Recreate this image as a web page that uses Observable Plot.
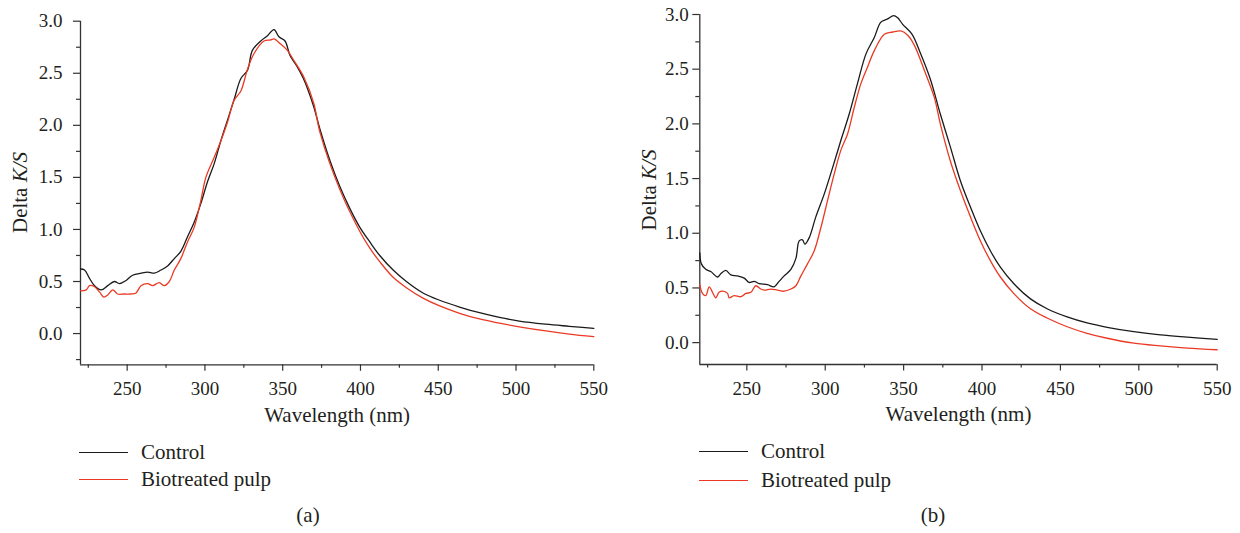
<!DOCTYPE html>
<html>
<head>
<meta charset="utf-8">
<script src="https://cdn.jsdelivr.net/npm/d3@7"></script>
<script src="https://cdn.jsdelivr.net/npm/@observablehq/plot@0.6"></script>
<style>
  html, body { margin: 0; padding: 0; background: #fff; }
  #fig { position: relative; width: 1240px; height: 533px; overflow: hidden; font-family: "Liberation Serif", serif; color: #231f20; }
  .panel { position: absolute; top: 0; width: 620px; height: 430px; }
  .leg { position: absolute; font-size: 21px; line-height: 21px; white-space: nowrap; }
  .legline { position: absolute; width: 49px; height: 0; border-top: 1.4px solid; }
  .cap { position: absolute; width: 616px; text-align: center; font-size: 21px; line-height: 21px; }
</style>
</head>
<body>
<div id="fig">
  <div class="panel" id="pa" style="left:0"></div>
  <div class="panel" id="pb" style="left:620px"></div>

  <div class="legline" style="left:79px;top:451.5px;border-color:#1a1a1a"></div>
  <div class="leg" style="left:141px;top:441.5px">Control</div>
  <div class="legline" style="left:79px;top:478.5px;border-color:#ea3a24"></div>
  <div class="leg" style="left:141px;top:469px">Biotreated pulp</div>
  <div class="cap" style="left:0;top:504.5px">(a)</div>

  <div class="legline" style="left:699px;top:451px;border-color:#1a1a1a"></div>
  <div class="leg" style="left:761px;top:441px">Control</div>
  <div class="legline" style="left:699px;top:480px;border-color:#ea3a24"></div>
  <div class="leg" style="left:761px;top:470px">Biotreated pulp</div>
  <div class="cap" style="left:625px;top:504.5px">(b)</div>
</div>
<script>
// ---- Data ----
const seriesNames = ["Control", "Biotreated pulp"];
const seriesColors = ["#1a1a1a", "#ea3a24"];
const xDomain = [220, 550];
const xMajorTicks = [250, 300, 350, 400, 450, 500, 550];
const xMinorTicks = [225, 275, 325, 375, 425, 475, 525];
const yMajorTicks = [0, 0.5, 1.0, 1.5, 2.0, 2.5, 3.0];
const yMinorTicksA = [-0.25, 0.25, 0.75, 1.25, 1.75, 2.25, 2.75];
const yMinorTicksB = [0.25, 0.75, 1.25, 1.75, 2.25, 2.75];
const yDomainA = [-0.3, 3.0];
const yDomainB = [-0.2, 3.0];

// Panel (a) Control
const aControlWl = [220,222.6,225.8,229,233.3,237.5,241.8,245,249.3,253.5,258.9,263.2,267.4,271.7,276,280.3,284.5,288.8,293.1,297.4,301.7,305.9,310.2,314.5,318.8,323.1,327.4,330.5,335.9,340.2,344.4,347.6,351.5,354.7,359,363.3,369.7,374,380.4,386.8,393.2,399.6,406,412.4,421,429.5,440.2,450.9,463.7,476.5,489.3,502.1,519.2,534.2,550];
const aControlVal = [0.62,0.61,0.53,0.46,0.42,0.46,0.50,0.48,0.51,0.56,0.58,0.59,0.58,0.61,0.65,0.72,0.79,0.93,1.07,1.25,1.46,1.63,1.85,2.05,2.25,2.45,2.53,2.72,2.81,2.86,2.92,2.85,2.81,2.67,2.57,2.45,2.19,1.96,1.66,1.41,1.20,1.02,0.88,0.75,0.61,0.50,0.39,0.32,0.255,0.20,0.155,0.12,0.09,0.07,0.05];
// Panel (a) Biotreated pulp
const aBioWl = [220,223.7,225.8,229,232.2,235,237.5,240.7,243.9,248.2,252.4,255.7,258.9,263.2,266.4,270.6,273.9,277.1,280.3,284.5,288.8,293.1,297.4,300.6,305.9,310.2,314.5,318.8,323.1,327.4,331.6,338,342.3,344.4,348.7,353,357.3,363.7,370,374,386.8,399.6,406,412.4,421,429.5,440.2,450.9,463.7,476.5,489.3,502.1,519.2,534.2,550];
const aBioVal = [0.41,0.42,0.46,0.45,0.40,0.35,0.37,0.42,0.38,0.38,0.38,0.39,0.46,0.48,0.46,0.49,0.46,0.50,0.61,0.72,0.88,1.02,1.28,1.50,1.69,1.85,2.03,2.24,2.33,2.54,2.69,2.81,2.82,2.83,2.78,2.72,2.62,2.46,2.21,1.93,1.38,0.98,0.82,0.69,0.54,0.44,0.34,0.265,0.195,0.14,0.10,0.065,0.025,-0.005,-0.03];

// Panel (b) Control
const bControlWl = [220,221,223.8,227,231.3,233.4,236.6,239.8,244,248.3,251.5,254.7,257.9,263.2,267.4,270.6,273.8,278.1,281.3,283.4,285.5,287,289.8,294,299.4,304.7,310,315.3,320.6,326,331.3,335.5,339.8,343.6,346.2,349.4,355.3,360.6,367,373.4,379.8,386.2,392.6,399,405.3,411.7,420.2,430.9,441.5,454.3,467,479.8,496.8,513.8,530.9,550];
const bControlVal = [0.82,0.72,0.67,0.65,0.60,0.63,0.66,0.62,0.61,0.59,0.55,0.56,0.54,0.53,0.51,0.56,0.61,0.67,0.77,0.93,0.94,0.90,0.96,1.15,1.36,1.60,1.85,2.09,2.37,2.64,2.79,2.93,2.96,2.99,2.97,2.91,2.82,2.65,2.41,2.09,1.79,1.48,1.24,1.02,0.84,0.69,0.54,0.40,0.31,0.235,0.18,0.14,0.10,0.07,0.05,0.03];
// Panel (b) Biotreated pulp
const bBioWl = [220,221.7,223.8,226,228.1,230.2,232.3,234.5,237.7,238.7,241.9,246.2,249.4,252.6,255.7,258.9,261.1,265.3,269.6,273.8,278.1,281.3,284.5,288.7,293,297.2,301.5,305.7,310,314.3,318.5,322.8,327,331.3,337.7,343,348.3,352.6,356.8,363.2,369.6,373.4,379.8,386.2,392.6,399,405.3,411.7,420.2,430.9,441.5,454.3,467,479.8,496.8,513.8,530.9,550];
const bBioVal = [0.53,0.45,0.43,0.51,0.46,0.41,0.46,0.47,0.45,0.41,0.43,0.42,0.45,0.46,0.52,0.49,0.48,0.49,0.48,0.47,0.49,0.52,0.61,0.72,0.84,1.05,1.30,1.54,1.76,1.91,2.15,2.37,2.52,2.67,2.82,2.84,2.85,2.81,2.72,2.49,2.24,2.00,1.66,1.39,1.15,0.93,0.75,0.60,0.45,0.31,0.225,0.145,0.085,0.04,-0.005,-0.03,-0.05,-0.065];

function rows(wl, val, name) { return wl.map((w, i) => ({wl: w, v: val[i], series: name})); }

function panel(el, cfg) {
  const data = [
    ...rows(cfg.ctrlWl, cfg.ctrlVal, seriesNames[0]),
    ...rows(cfg.bioWl, cfg.bioVal, seriesNames[1])
  ];
  const axisColor = "#333";
  const plot = Plot.plot({
    width: 620, height: 430,
    marginLeft: cfg.ml, marginRight: cfg.mr, marginTop: cfg.mt, marginBottom: cfg.mb,
    style: {fontFamily: "'Liberation Serif', serif", fontSize: "19px", color: "#231f20", background: "transparent"},
    x: {domain: xDomain},
    y: {domain: cfg.yDomain},
    color: {domain: seriesNames, range: seriesColors},
    marks: [
      Plot.axisX(xMajorTicks, {tickSize: 6.5, tickPadding: 10, label: null, stroke: axisColor, strokeWidth: 1.2}),
      Plot.axisX(xMinorTicks, {tickSize: 3.5, tickFormat: () => "", label: null, stroke: axisColor, strokeWidth: 1.2}),
      Plot.axisY(yMajorTicks, {tickSize: 7, tickPadding: cfg.ytp, tickFormat: d3.format(".1f"), label: null, stroke: axisColor, strokeWidth: 1.2}),
      Plot.axisY(cfg.yMinor, {tickSize: 4, tickFormat: () => "", label: null, stroke: axisColor, strokeWidth: 1.2}),
      Plot.ruleY([cfg.yDomain[0]], {stroke: axisColor, strokeWidth: 1.3}),
      Plot.ruleX([xDomain[0]], {stroke: axisColor, strokeWidth: 1.3}),
      Plot.line(data, {x: "wl", y: "v", z: "series", stroke: "series", strokeWidth: 1.3, curve: "catmull-rom"}),
      Plot.text(["Wavelength (nm)"], {frameAnchor: "bottom", lineAnchor: "bottom", dy: cfg.xlabDy, fontSize: 21, fill: "#231f20"})
    ]
  });
  // y-axis title with italic K/S
  const t = d3.select(plot).append("text")
    .attr("transform", `translate(${cfg.ylabX},${cfg.ylabY}) rotate(-90)`)
    .attr("text-anchor", "middle")
    .attr("font-size", 21)
    .attr("fill", "#231f20");
  t.append("tspan").text("Delta ");
  t.append("tspan").attr("font-style", "italic").text("K/S");
  el.appendChild(plot);
}

panel(document.getElementById("pa"), {
  ctrlWl: aControlWl, ctrlVal: aControlVal, bioWl: aBioWl, bioVal: aBioVal,
  yDomain: yDomainA, yMinor: yMinorTicksA,
  ml: 80, mr: 26.7, mt: 20.7, mb: 65.7, ytp: 11, xlabDy: 57.4, ylabX: 26.5, ylabY: 192.5
});
panel(document.getElementById("pb"), {
  ctrlWl: bControlWl, ctrlVal: bControlVal, bioWl: bBioWl, bioVal: bBioVal,
  yDomain: yDomainB, yMinor: yMinorTicksB,
  ml: 79.3, mr: 23.3, mt: 14, mb: 66, ytp: 4, xlabDy: 56, ylabX: 35.5, ylabY: 190
});
</script>
</body>
</html>
